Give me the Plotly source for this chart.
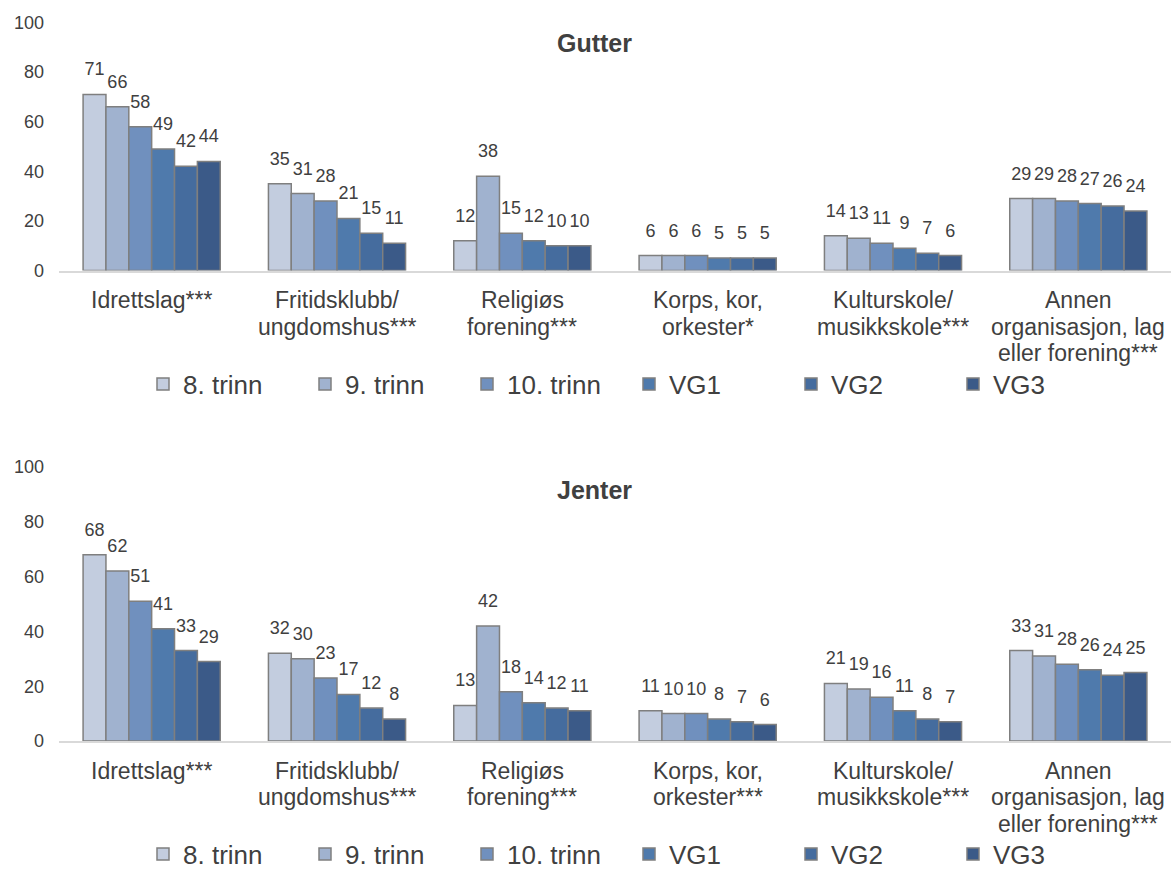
import plotly.graph_objects as go

series = ["8. trinn", "9. trinn", "10. trinn", "VG1", "VG2", "VG3"]
colors = ["#C3CDDF", "#A0B2CF", "#7090BE", "#4F7AAC", "#456C9E", "#3B5A88"]

cats_gutter = ["Idrettslag***", "Fritidsklubb/<br>ungdomshus***", "Religiøs<br>forening***",
               "Korps, kor,<br>orkester*", "Kulturskole/<br>musikkskole***",
               "Annen<br>organisasjon, lag<br>eller forening***"]
cats_jenter = ["Idrettslag***", "Fritidsklubb/<br>ungdomshus***", "Religiøs<br>forening***",
               "Korps, kor,<br>orkester***", "Kulturskole/<br>musikkskole***",
               "Annen<br>organisasjon, lag<br>eller forening***"]

gutter_8 = [71, 35, 12, 6, 14, 29]
gutter_9 = [66, 31, 38, 6, 13, 29]
gutter_10 = [58, 28, 15, 6, 11, 28]
gutter_vg1 = [49, 21, 12, 5, 9, 27]
gutter_vg2 = [42, 15, 10, 5, 7, 26]
gutter_vg3 = [44, 11, 10, 5, 6, 24]

jenter_8 = [68, 32, 13, 11, 21, 33]
jenter_9 = [62, 30, 42, 10, 19, 31]
jenter_10 = [51, 23, 18, 10, 16, 28]
jenter_vg1 = [41, 17, 14, 8, 11, 26]
jenter_vg2 = [33, 12, 12, 7, 8, 24]
jenter_vg3 = [29, 8, 11, 6, 7, 25]

gutter = [gutter_8, gutter_9, gutter_10, gutter_vg1, gutter_vg2, gutter_vg3]
jenter = [jenter_8, jenter_9, jenter_10, jenter_vg1, jenter_vg2, jenter_vg3]

FONT = "Liberation Sans, Arial, sans-serif"
TXT = "#404040"
W, H = 1171, 882
L = 59

# pixel layout of the two panels (top/bottom edges of plot areas)
TOP_PANEL = (22.5, 270.5)
BOT_PANEL = (467.0, 741.0)
LABEL_GAP_PX = 12      # extra gap between bar top and its value label
CAT_FIRST_PX = 29.5    # axis -> middle of first category-label line
CAT_LINE_PX = 26.7     # category-label line spacing


def py(px):
    return 1 - px / H


def pxx(px):
    return (px - L) / (W - L)


fig = go.Figure()
annotations = []


def add_panel(cats, data, xa, ya, legend, panel):
    pad = LABEL_GAP_PX * 100.0 / (panel[1] - panel[0])
    for i, name in enumerate(series):
        fig.add_trace(go.Bar(
            x=cats, y=data[i], name=name, xaxis=xa, yaxis=ya,
            offsetgroup=str(i),
            marker=dict(color=colors[i], line=dict(color="#7F7F7F", width=1.5)),
            legend=legend, hoverinfo="skip"))
    for i, name in enumerate(series):
        fig.add_trace(go.Bar(
            x=cats, y=[pad] * len(cats), base=data[i], xaxis=xa, yaxis=ya,
            offsetgroup=str(i), showlegend=False, legend=legend,
            marker=dict(color="rgba(0,0,0,0)", line=dict(width=0)),
            text=[str(v) for v in data[i]], textposition="outside",
            textfont=dict(size=18, color=TXT, family=FONT),
            constraintext="none", cliponaxis=False, hoverinfo="skip"))
    # category labels, one annotation per text line
    for c in cats:
        for k, line in enumerate(c.split("<br>")):
            annotations.append(dict(
                text=line, x=c, y=0, xref=xa, yref=ya, showarrow=False,
                xanchor="center", yanchor="middle",
                yshift=-(CAT_FIRST_PX + k * CAT_LINE_PX),
                font=dict(size=23, color=TXT, family=FONT)))


add_panel(cats_gutter, gutter, "x", "y", "legend", TOP_PANEL)
add_panel(cats_jenter, jenter, "x2", "y2", "legend2", BOT_PANEL)

xax = dict(showgrid=False, showline=True, linecolor="#D9D9D9", linewidth=2,
           ticks="", showticklabels=False, automargin=False, fixedrange=True)
yax = dict(range=[0, 100], dtick=20, showgrid=False, showline=False, zeroline=False,
           ticks="", tickfont=dict(size=18, color=TXT, family=FONT),
           automargin=False, ticklabelstandoff=14, fixedrange=True)

legend_common = dict(orientation="h", xanchor="left", yanchor="middle",
                     font=dict(size=26, color=TXT, family=FONT),
                     entrywidth=117, entrywidthmode="pixels",
                     itemwidth=30, bgcolor="rgba(0,0,0,0)", traceorder="normal",
                     itemclick=False, itemdoubleclick=False)

annotations += [
    dict(text="<b>Gutter</b>", x=pxx(594), y=py(43), xref="paper", yref="paper",
         showarrow=False, font=dict(size=25, color=TXT, family=FONT),
         xanchor="center", yanchor="middle"),
    dict(text="<b>Jenter</b>", x=pxx(594), y=py(490), xref="paper", yref="paper",
         showarrow=False, font=dict(size=25, color=TXT, family=FONT),
         xanchor="center", yanchor="middle"),
]

fig.update_layout(
    width=W, height=H,
    margin=dict(l=L, r=0, t=0, b=0, autoexpand=False),
    paper_bgcolor="white", plot_bgcolor="white",
    barmode="group", bargap=0.26, bargroupgap=0,
    font=dict(family=FONT, color=TXT),
    xaxis=dict(**xax, domain=[0, 1], anchor="y"),
    yaxis=dict(**yax, domain=[py(TOP_PANEL[1]), py(TOP_PANEL[0])], anchor="x"),
    xaxis2=dict(**xax, domain=[0, 1], anchor="y2"),
    yaxis2=dict(**yax, domain=[py(BOT_PANEL[1]), py(BOT_PANEL[0])], anchor="x2"),
    legend=dict(**legend_common, x=pxx(143), y=py(384)),
    legend2=dict(**legend_common, x=pxx(143), y=py(854)),
    showlegend=True,
    annotations=annotations,
)

fig.write_html("out.html", config={"displayModeBar": False},
               post_script="document.body.style.margin='0px';document.body.style.overflow='hidden';")
